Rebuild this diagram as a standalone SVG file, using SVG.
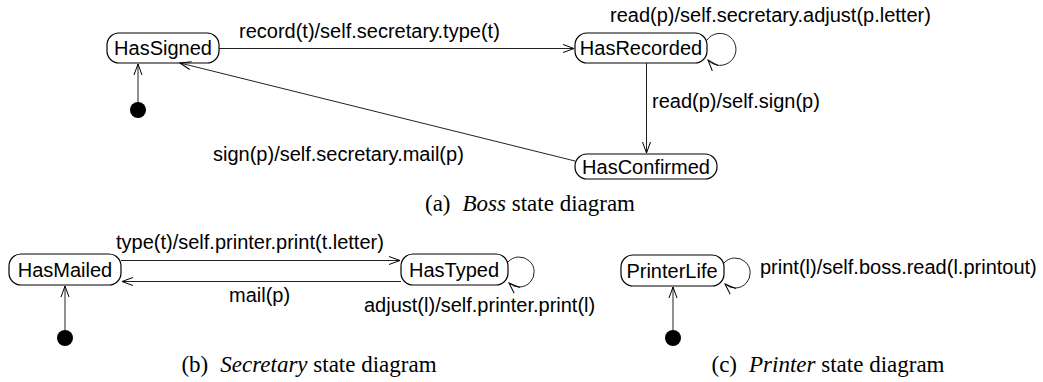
<svg xmlns="http://www.w3.org/2000/svg" width="1043" height="382" viewBox="0 0 1043 382">
  <defs>
    <marker id="open" viewBox="0 0 12 10" refX="11" refY="5" markerWidth="12" markerHeight="10" markerUnits="userSpaceOnUse" orient="auto">
      <path d="M0,1 L11,5 L0,9" fill="none" stroke="#000" stroke-width="1"/>
    </marker>
  </defs>
  <style>
    .state rect { fill: #fff; stroke: #000; stroke-width: 1.2; }
    .state text { font-family: "Liberation Sans", Arial, sans-serif; font-size: 20px; fill: #000; text-anchor: middle; }
    .lbl { font-family: "Liberation Sans", Arial, sans-serif; font-size: 20px; fill: #000; }
    .cap { font-family: "Liberation Serif", "Times New Roman", serif; font-size: 23px; fill: #000; text-anchor: middle; }
    .cap .it { font-style: italic; }
    .edge { fill: none; stroke: #222; stroke-width: 1; marker-end: url(#open); }
    .init { fill: #000; }
  </style>
  <rect width="1043" height="382" fill="#fff"/>

  <!-- Boss -->
  <g id="boss-init"><circle class="init" cx="138" cy="110" r="8"/></g>
  <g id="HasSigned" class="state"><rect x="107" y="33" width="112" height="30" rx="12"/><text x="163" y="55">HasSigned</text></g>
  <g id="HasRecorded" class="state"><rect x="575" y="33" width="132" height="30" rx="12"/><text x="641" y="55">HasRecorded</text></g>
  <g id="HasConfirmed" class="state"><rect x="575" y="154" width="142" height="25" rx="12"/><text x="646" y="174">HasConfirmed</text></g>

  <!-- Secretary -->
  <g id="secretary-init"><circle class="init" cx="65" cy="338" r="8"/></g>
  <g id="HasMailed" class="state"><rect x="9" y="254" width="112" height="31" rx="12"/><text x="65" y="277">HasMailed</text></g>
  <g id="HasTyped" class="state"><rect x="401" y="254" width="107" height="31" rx="12"/><text x="454" y="277">HasTyped</text></g>

  <!-- Printer -->
  <g id="printer-init"><circle class="init" cx="673" cy="338" r="8"/></g>
  <g id="PrinterLife" class="state"><rect x="621" y="255" width="103" height="31" rx="12"/><text x="672" y="278">PrinterLife</text></g>

  <g id="connectors">
    <path class="edge" d="M138,102 L138,64"/>
    <path class="edge" d="M219,48.5 L574,48.5"/>
    <path class="edge" d="M707,40 A16,16 0 1 1 708,60"/>
    <path class="edge" d="M646.5,63 L646.5,153"/>
    <path class="edge" d="M575,161 L180,63"/>

    <path class="edge" d="M65,330 L65,286"/>
    <path class="edge" d="M121,260.5 L400,260.5"/>
    <path class="edge" d="M401,281.5 L122,281.5"/>
    <path class="edge" d="M508,262 A15,15 0 1 1 509,283"/>

    <path class="edge" d="M673,330 L673,287"/>
    <path class="edge" d="M724,263 A15,15 0 1 1 725,284"/>
  </g>

  <g id="labels">
    <text class="lbl" x="239" y="38">record(t)/self.secretary.type(t)</text>
    <text class="lbl" x="610" y="22">read(p)/self.secretary.adjust(p.letter)</text>
    <text class="lbl" x="652" y="108">read(p)/self.sign(p)</text>
    <text class="lbl" x="213" y="161">sign(p)/self.secretary.mail(p)</text>
    <text class="lbl" x="116" y="249">type(t)/self.printer.print(t.letter)</text>
    <text class="lbl" x="229" y="302">mail(p)</text>
    <text class="lbl" x="364" y="312">adjust(l)/self.printer.print(l)</text>
    <text class="lbl" x="760" y="274">print(l)/self.boss.read(l.printout)</text>
  </g>

  <g id="captions">
    <text class="cap" x="530" y="211">(a)<tspan class="it" dx="12">Boss</tspan> state diagram</text>
    <text class="cap" x="309" y="372">(b)<tspan class="it" dx="12">Secretary</tspan> state diagram</text>
    <text class="cap" x="828" y="372">(c)<tspan class="it" dx="12">Printer</tspan> state diagram</text>
  </g>
</svg>
